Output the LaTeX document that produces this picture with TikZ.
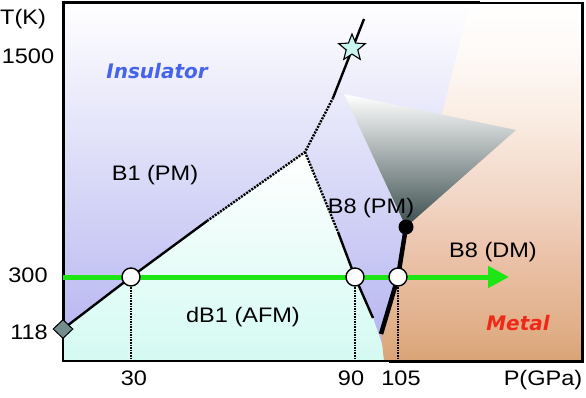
\documentclass[tikz,border=0pt]{standalone}
\usepackage{fontspec}
\setmainfont{Liberation Sans}[FakeStretch=1.12]
\newfontfamily\comicfont{DejaVu Sans}
\usetikzlibrary{shapes.geometric,arrows.meta}
\definecolor{lav}{RGB}{178,178,240}
\definecolor{lavm}{RGB}{232,232,252}
\definecolor{cyanl}{RGB}{212,250,242}
\definecolor{conec}{RGB}{58,76,76}
\definecolor{grn}{RGB}{30,230,20}
\definecolor{insb}{RGB}{70,100,235}
\definecolor{metr}{RGB}{240,40,25}
\definecolor{diac}{RGB}{115,140,140}
\definecolor{starc}{RGB}{200,245,240}
\pgfdeclareverticalshading{metalsh}{100bp}{%
  rgb(0bp)=(0.847,0.639,0.463);
  rgb(25bp)=(0.847,0.639,0.463);
  rgb(29bp)=(0.878,0.682,0.525);
  rgb(40.5bp)=(0.925,0.769,0.675);
  rgb(47.4bp)=(0.945,0.835,0.769);
  rgb(58.6bp)=(0.980,0.925,0.886);
  rgb(68bp)=(0.996,0.980,0.969);
  rgb(75bp)=(1,1,1);
  rgb(100bp)=(1,1,1)}
\begin{document}
\begin{tikzpicture}[x=1pt,y=-1pt,
  lbl/.style={font=\fontsize{21}{21}\selectfont, inner sep=0pt, anchor=base},
  ital/.style={font=\comicfont\bfseries\itshape\fontsize{20}{20}\selectfont, inner sep=0pt, anchor=base},
  phase/.style={line width=2.4pt, black},
  phasedot/.style={line width=2.4pt, black, dash pattern=on 2pt off 1.2pt},
  drop/.style={line width=2pt, black, dash pattern=on 1.6pt off 1pt},
  metalline/.style={line width=4.5pt, black},
  frame/.style={line width=3pt, black},
  thin/.style={line width=1.2pt, black},
  opencirc/.style={circle, draw=black, line width=1.4pt, fill=white, minimum size=18pt, inner sep=0pt},
  blackdot/.style={circle, fill=black, minimum size=15pt, inner sep=0pt},
  diam/.style={diamond, draw=black, line width=1pt, fill=diac, minimum width=20pt, minimum height=19pt, inner sep=0pt},
  starn/.style={star, star points=5, star point ratio=2.3, draw=black, line width=1.1pt, fill=starc, minimum size=28pt, inner sep=0pt}
]
\useasboundingbox (0,0) rectangle (586,397);
% key points
\coordinate (D) at (63,329);
\coordinate (C30) at (131,277);
\coordinate (P1) at (207,221);
\coordinate (J) at (305,152);
\coordinate (P2) at (333,98);
\coordinate (TOP) at (364,19);
\coordinate (ST) at (352,48);
\coordinate (P3) at (338,232);
\coordinate (C90) at (355,277);
\coordinate (P4) at (373,318);
\coordinate (BD) at (406,227);
\coordinate (C105) at (398,277);
\coordinate (P5) at (381,334);
\coordinate (B30) at (131,361);
\coordinate (B90) at (355,361);
\coordinate (B105) at (398,361);
\coordinate (GS) at (63,277);
\coordinate (GE) at (509,277);
% backgrounds
\shade[top color=white, middle color=lavm, bottom color=lav] (63,2) rectangle (583,361);
\shade[top color=white, bottom color=cyanl] (63,329) -- (131,277) -- (305,152) -- (355,277) -- (373,318) -- (388,361) -- (63,361) -- cycle;
\shade[shading=metalsh] (384,361) -- (381,334) -- (398,277) -- (406,227) -- (443,110) -- (470,2) -- (583,2) -- (583,361) -- cycle;
\shade[top color=white, bottom color=conec] (344,94) -- (516,130) -- (406,227) -- cycle;
% frame
\draw[frame] (63,0.5) -- (63,329);
\draw[frame] (61.5,2) -- (480,2);
\draw[thin] (480,3) -- (583,3);
\draw[frame] (582.5,2) -- (582.5,362.5);
\draw[frame] (389,361) -- (584,361);
\draw[thin] (63,329) -- (63,361) -- (389,361);
% phase lines
\draw[phase] (D) -- (C30) -- (P1);
\draw[phasedot] (P1) -- (J) -- (P2);
\draw[phase] (P2) -- (TOP);
\draw[phasedot] (J) -- (P3);
\draw[phase] (P3) -- (C90) -- (P4);
\draw[metalline] (BD) -- (C105) -- (P5);
% drop lines
\draw[drop] (C30) -- (B30);
\draw[drop] (C90) -- (B90);
\draw[drop] (C105) -- (B105);
% green arrow
\draw[grn, line width=5pt, -{Triangle[length=21pt,width=21pt]}] (GS) -- (GE);
% markers
\node[opencirc] (n30) at (C30) {};
\node[opencirc] (n90) at (C90) {};
\node[opencirc] (n105) at (C105) {};
\node[blackdot] (nbd) at (BD) {};
\node[diam] (nd) at (D) {};
\node[starn] (nst) at (ST) {};
% axis labels
\node[lbl] (tk) at (23,24) {T(K)};
\node[lbl] (t1500) at (28,63) {1500};
\node[lbl] (t300) at (28,282) {300};
\node[lbl] (t118) at (29,339) {118};
\node[lbl] (p30) at (134,385) {30};
\node[lbl] (p90) at (351,385) {90};
\node[lbl] (p105) at (401,385) {105};
\node[lbl] (pg) at (543,385) {P(GPa)};
% region labels
\node[lbl] (b1) at (155,180) {B1 (PM)};
\node[lbl] (db1) at (243,322) {dB1 (AFM)};
\node[lbl] (b8pm) at (371,213) {B8 (PM)};
\node[lbl] (b8dm) at (493,257) {B8 (DM)};
\node[ital, text=insb] (ins) at (157,78) {Insulator};
\node[ital, text=metr] (met) at (518,330) {Metal};
\end{tikzpicture}
\end{document}
